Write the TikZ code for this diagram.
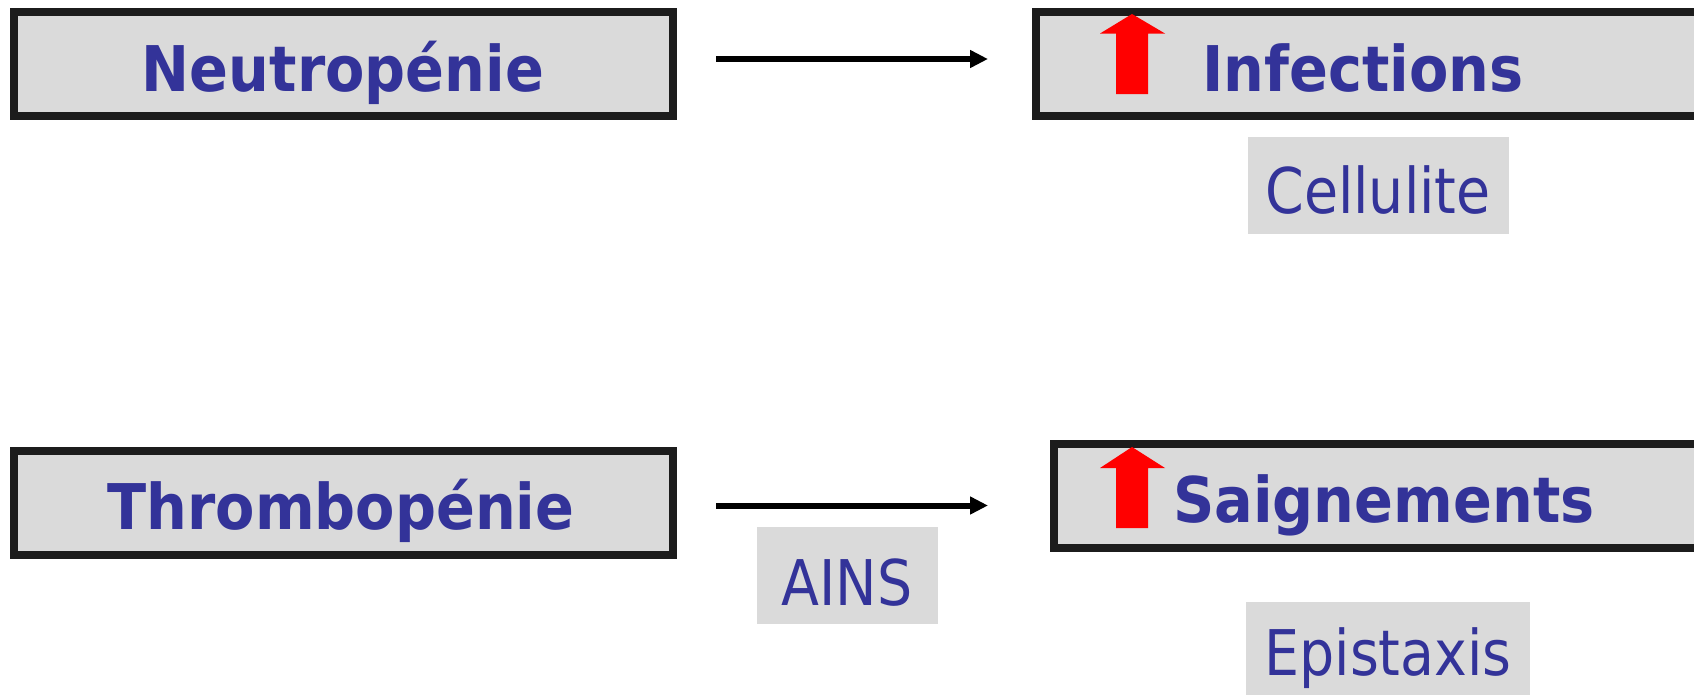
\documentclass[tikz,border=0pt]{standalone}
\usepackage{fontspec}
\newfontfamily\bfnt[FakeStretch=0.91]{DejaVu Sans}
\newfontfamily\rfnt[FakeStretch=0.88]{DejaVu Sans}
\usetikzlibrary{calc,arrows.meta}
\definecolor{txtblue}{HTML}{333399}
\definecolor{boxgray}{HTML}{DADADA}
\definecolor{bord}{HTML}{1C1C1C}
\definecolor{upred}{HTML}{FF0000}
\tikzset{
  mainbox/.style={draw=bord, line width=8pt, fill=boxgray, inner sep=0pt, outer sep=0pt, anchor=north west},
  subbox/.style={fill=boxgray, inner sep=0pt, outer sep=0pt, anchor=north west},
  bigtxt/.style={text=txtblue, inner sep=0pt, anchor=base, font=\bfnt\bfseries\fontsize{63}{70}\selectfont},
  smalltxt/.style={text=txtblue, inner sep=0pt, anchor=base, font=\rfnt\fontsize{63}{70}\selectfont},
  conn/.style={draw=black, line width=6pt, -{Triangle[length=18pt,width=17pt]}},
  uparrow/.style={fill=upred, draw=none}
}
\begin{document}
\begin{tikzpicture}[x=1pt,y=-1pt]
\useasboundingbox (0,0) rectangle (1694,694);
% main boxes (positions are line centres)
\node[mainbox, minimum width=659pt, minimum height=104pt] (neu) at (14,12) {};
\node[mainbox, minimum width=670pt, minimum height=104pt] (inf) at (1036,12) {};
\node[mainbox, minimum width=659pt, minimum height=104pt] (thr) at (14,451) {};
\node[mainbox, minimum width=654pt, minimum height=104pt] (sai) at (1054,444) {};
% sub boxes
\node[subbox, minimum width=261pt, minimum height=97pt] (cel) at (1248,137) {};
\node[subbox, minimum width=181pt, minimum height=97pt] (ains) at (757,527) {};
\node[subbox, minimum width=284pt, minimum height=100pt] (epi) at (1246,602) {};
% texts
\node[bigtxt] (tneu) at (343,91) {Neutropénie};
\node[bigtxt, anchor=base west] (tinf) at (1202,91) {Infections};
\node[bigtxt] (tthr) at (341,529) {Thrombopénie};
\node[bigtxt, anchor=base west] (tsai) at (1173,522) {Saignements};
\node[smalltxt] (tcel) at (1378,213) {Cellulite};
\node[smalltxt] (tains) at (847,605) {AINS};
\node[smalltxt] (tepi) at (1388,675) {Epistaxis};
% red up arrows
\fill[uparrow] (1132,14) -- (1165,33.5) -- (1148,33.5) -- (1148,94) -- (1116,94) -- (1116,33.5) -- (1100,33.5) -- cycle;
\fill[uparrow] (1132,447) -- (1165,468) -- (1148,468) -- (1148,528) -- (1116,528) -- (1116,468) -- (1100,468) -- cycle;
% connectors
\draw[conn] ($(neu.east)+(43,-5)$) -- ($(inf.west)+(-48,-5)$);
\draw[conn] ($(thr.east)+(43,2.5)$) -- ($(sai.west |- thr.east)+(-66,2.5)$);
\end{tikzpicture}
\end{document}
